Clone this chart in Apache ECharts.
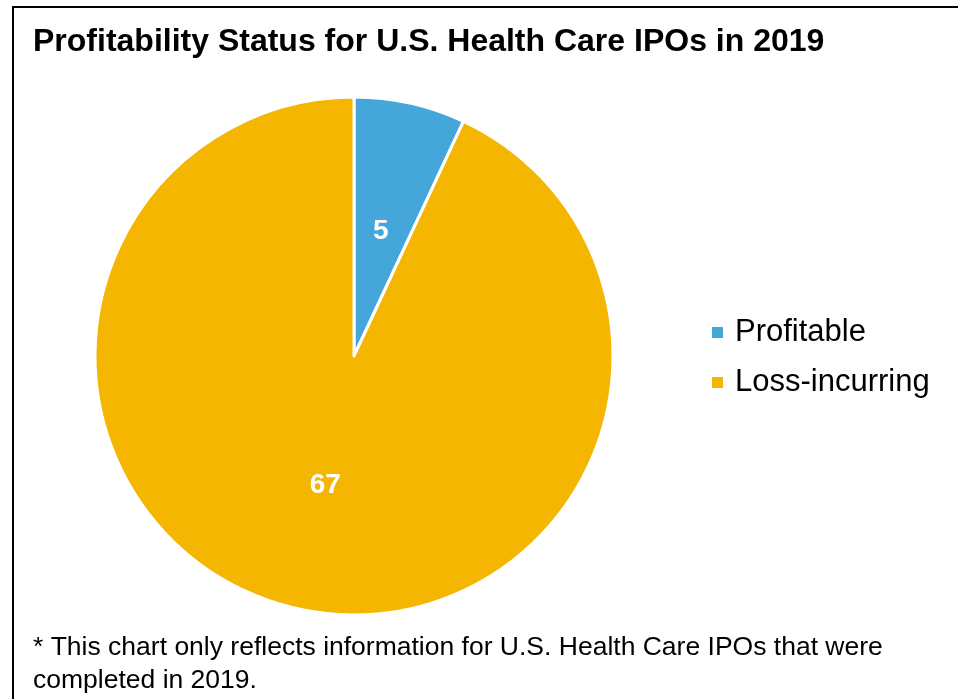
<!DOCTYPE html>
<html>
<head>
<meta charset="utf-8">
<script src="https://cdn.jsdelivr.net/npm/echarts@6/dist/echarts.min.js"></script>
<style>
  html, body { margin: 0; padding: 0; background: #fff; }
  #chart { width: 958px; height: 699px; }
</style>
</head>
<body>
<div id="chart"></div>
<script>
// Profitability of 2019 U.S. health care IPOs
const categories = ['Profitable', 'Loss-incurring'];
const counts = [5, 67];
const colors = ['#45A7D9', '#F4B600'];
// small nudges for the in-slice value labels
const labelOffsets = [[-2, 5], [0, 0]];

const titleText = 'Profitability Status for U.S. Health Care IPOs in 2019';
const noteLines = [
  '* This chart only reflects information for U.S. Health Care IPOs that were',
  'completed in 2019.'
];

const FONT = 'Liberation Sans, Arial, sans-serif';

const chart = echarts.init(document.getElementById('chart'), null, { renderer: 'canvas' });

chart.setOption({
  backgroundColor: '#ffffff',
  animation: false,
  title: [
    {
      text: titleText,
      left: 33,
      top: 26,
      padding: 0,
      textStyle: { fontFamily: FONT, fontWeight: 'bold', fontSize: 32, color: '#000' }
    },
    {
      text: noteLines.join('\n'),
      left: 33,
      top: 631,
      padding: 0,
      textStyle: { fontFamily: FONT, fontWeight: 'normal', fontSize: 26.5, lineHeight: 33, color: '#000' }
    }
  ],
  graphic: [
    {
      type: 'rect',
      shape: { x: 13, y: 7, width: 1000, height: 800 },
      style: { fill: 'none', stroke: '#000', lineWidth: 2 },
      silent: true
    }
  ],
  legend: {
    orient: 'vertical',
    left: 710,
    top: 317,
    padding: 0,
    itemWidth: 13,
    itemHeight: 13,
    itemGap: 19,
    icon: 'rect',
    textStyle: { fontFamily: FONT, fontSize: 31, color: '#000', padding: [0, 0, 0, 6] },
    data: categories
  },
  series: [
    {
      type: 'pie',
      center: [354, 356],
      radius: [0, 259],
      startAngle: 90,
      clockwise: true,
      label: {
        show: true,
        position: 'inside',
        formatter: '{c}',
        color: '#fff',
        fontFamily: FONT,
        fontWeight: 'bold',
        fontSize: 28
      },
      labelLine: { show: false },
      itemStyle: { borderColor: '#fff', borderWidth: 3 },
      emphasis: { disabled: true },
      data: categories.map((name, i) => ({
        name,
        value: counts[i],
        itemStyle: { color: colors[i] },
        label: { offset: labelOffsets[i] }
      }))
    }
  ]
});
</script>
</body>
</html>
